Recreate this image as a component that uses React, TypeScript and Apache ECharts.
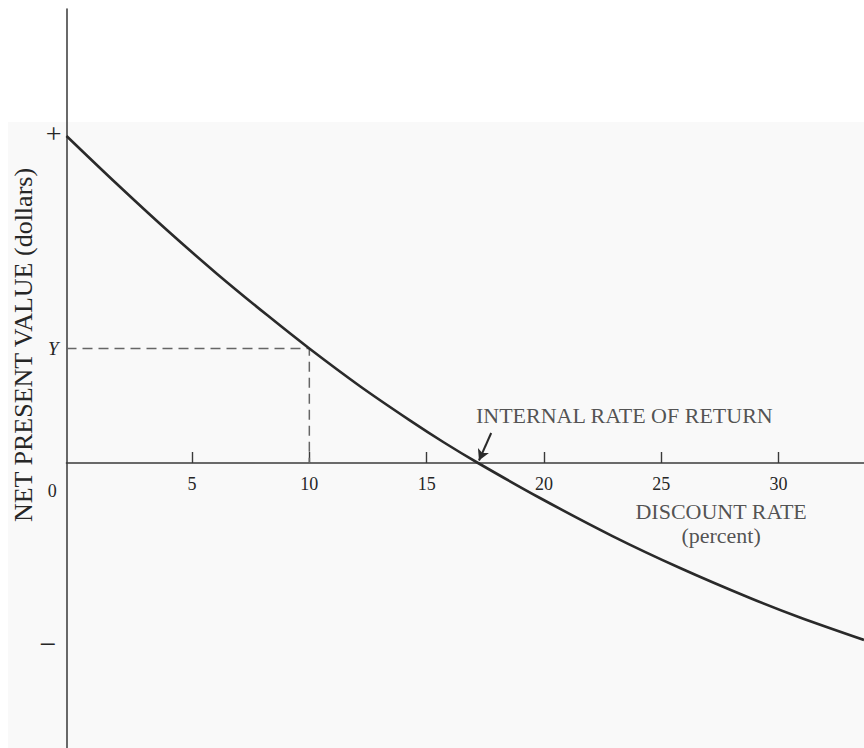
import React, { useEffect, useRef } from "react";
import * as echarts from "echarts";

// Discount rate (percent) and net present value (arbitrary dollar units)
const rate = [-0.35, 1.81, 3.94, 6.07, 8.2, 10, 12.16, 14.3, 15.74, 17.19, 19.83, 22.94, 25.8, 28.78, 30.91, 33.64];
const npv = [32.7, 27.87, 23.27, 18.91, 14.79, 11.45, 7.68, 4.24, 2.05, 0, -3.5, -7.33, -10.5, -13.5, -15.45, -17.7];

// Dashed guide from the NPV "Y" at a 10% discount rate
const guideRate = [-0.35, 10, 10];
const guideNpv = [11.45, 11.45, 0];

// Axis ticks / labels
const xTickValues = [5, 10, 15, 20, 25, 30];
const xLabelValues = [0, 5, 10, 15, 20, 25, 30];
const yTickValues = [33, 11.45, -18];
const yTickLabels = ["+", "Y", "\u2212"];
const yTickStyles = ["plus", "why", "minus"];

// Annotation anchors (data coordinates)
const irrLabelPos = [17.1, 4.8];
const irrArrowFrom = [17.75, 3.0];
const irrArrowTo = [17.23, 0.25];
const xTitlePos = [27.55, -6.0];

const FONT = "'Liberation Serif', 'DejaVu Serif', serif";
const INK = "#262626";
const Y_MIN = -28.5;
const Y_MAX = 45.4;
const GRID_TOP = 9;
const GRID_BOTTOM = 0;
const CHART_H = 748;

export default function App() {
  const ref = useRef<HTMLDivElement>(null);

  useEffect(() => {
    if (!ref.current) return;
    const chart = echarts.init(ref.current, null, { renderer: "svg" });
    const curve = rate.map((r, i) => [r, npv[i]]);
    const guide = guideRate.map((r, i) => [r, guideNpv[i]]);
    // distance from grid bottom up to the zero line, to lift the x axis onto it
    const gridH = CHART_H - GRID_TOP - GRID_BOTTOM;
    const zeroOffset = (gridH * (0 - Y_MIN)) / (Y_MAX - Y_MIN);

    chart.setOption({
      animation: false,
      backgroundColor: "#ffffff",
      grid: {
        left: 66.5,
        right: 0,
        top: GRID_TOP,
        bottom: GRID_BOTTOM,
        containLabel: false,
        outerBoundsMode: "none",
      },
      graphic: [
        {
          type: "rect",
          z: -10,
          silent: true,
          shape: { x: 8, y: 122, width: 856, height: 626 },
          style: { fill: "#f9f9f9" },
        },
        {
          type: "text",
          z: 10,
          x: 23,
          y: 345,
          rotation: Math.PI / 2,
          style: {
            text: "NET PRESENT VALUE (dollars)",
            font: `26px ${FONT}`,
            fill: INK,
            align: "center",
            verticalAlign: "middle",
          },
        },
      ],
      xAxis: {
        type: "value",
        min: -0.35,
        max: 33.64,
        offset: -zeroOffset,
        axisLine: { show: true, onZero: false, lineStyle: { color: "#3a3a3a", width: 1.6 } },
        axisTick: {
          show: true,
          inside: true,
          length: 11,
          customValues: xTickValues,
          lineStyle: { color: "#3a3a3a", width: 1.4 },
        },
        axisLabel: {
          show: true,
          customValues: xLabelValues,
          margin: 12,
          color: INK,
          fontFamily: FONT,
          fontSize: 18,
          formatter: (v: number) => (v === 0 ? "{o|0}" : String(v)),
          rich: {
            o: { padding: [7, 45, 0, 0], fontFamily: FONT, fontSize: 18, color: INK },
          },
        },
        splitLine: { show: false },
      },
      yAxis: {
        type: "value",
        min: Y_MIN,
        max: Y_MAX,
        axisLine: { show: true, onZero: false, lineStyle: { color: "#444", width: 1.6 } },
        axisTick: { show: false },
        splitLine: { show: false },
        axisLabel: {
          show: true,
          customValues: yTickValues,
          margin: 5,
          color: INK,
          fontFamily: FONT,
          formatter: (v: number) => {
            const i = yTickValues.findIndex((t) => Math.abs(t - v) < 1e-6);
            if (i < 0) return "";
            return `{${yTickStyles[i]}|${yTickLabels[i]}}`;
          },
          rich: {
            plus: { fontSize: 28, fontFamily: FONT, color: INK },
            why: { fontSize: 19, fontStyle: "italic", fontFamily: FONT, color: INK, padding: [0, 3, 0, 0] },
            minus: { fontSize: 30, fontFamily: FONT, color: INK, padding: [0, 5, 0, 0] },
          },
        },
      },
      series: [
        {
          name: "NPV",
          type: "line",
          data: curve,
          smooth: 0.3,
          showSymbol: false,
          symbol: "none",
          lineStyle: { color: "#2a2a2a", width: 2.6 },
          z: 5,
        },
        {
          name: "guide",
          type: "line",
          data: guide,
          showSymbol: false,
          symbol: "none",
          lineStyle: { color: "#666", width: 1.5, type: [10, 6] },
          z: 3,
        },
        {
          name: "annotations",
          type: "scatter",
          symbolSize: 0,
          silent: true,
          data: [
            {
              value: irrLabelPos,
              label: {
                show: true,
                formatter: "INTERNAL RATE OF RETURN",
                position: [0, 0],
                align: "left",
                verticalAlign: "middle",
                fontFamily: FONT,
                fontSize: 22,
                color: INK,
              },
            },
            {
              value: xTitlePos,
              label: {
                show: true,
                formatter: "DISCOUNT RATE\n(percent)",
                position: [0, 0],
                align: "center",
                verticalAlign: "middle",
                lineHeight: 24,
                fontFamily: FONT,
                fontSize: 22,
                color: INK,
              },
            },
          ],
          markLine: {
            silent: true,
            symbol: ["none", "arrow"],
            symbolSize: [9, 11],
            label: { show: false },
            lineStyle: { color: "#2a2a2a", width: 2, type: "solid" },
            data: [[{ coord: irrArrowFrom }, { coord: irrArrowTo }]],
          },
          z: 6,
        },
      ],
    });

    return () => chart.dispose();
  }, []);

  return (
    <div
      ref={ref}
      style={{ position: "fixed", left: 0, top: 0, width: 864, height: 748 }}
    />
  );
}
